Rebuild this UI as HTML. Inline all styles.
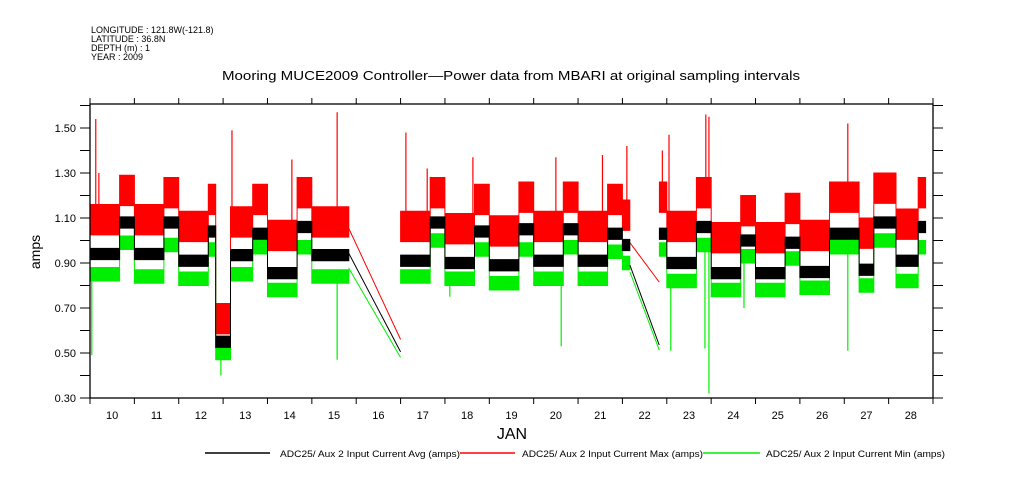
<!DOCTYPE html>
<html><head><meta charset="utf-8"><style>
html,body{margin:0;padding:0;background:#fff;}
svg{display:block;font-family:"Liberation Sans",sans-serif;}
</style></head><body>
<svg id="chart" width="1009" height="504" viewBox="0 0 1009 504" xmlns="http://www.w3.org/2000/svg">
<g font-size="9" fill="#000">
<text x="91" y="33">LONGITUDE : 121.8W(-121.8)</text>
<text x="91" y="42">LATITUDE : 36.8N</text>
<text x="91" y="51">DEPTH (m) : 1</text>
<text x="91" y="60">YEAR : 2009</text>
</g>
<text x="222" y="80" font-size="13" textLength="578" lengthAdjust="spacingAndGlyphs">Mooring MUCE2009 Controller—Power data from MBARI at original sampling intervals</text>
<text x="0" y="0" font-size="14" text-anchor="middle" transform="translate(40,252) rotate(-90)">amps</text>
<text x="512" y="439" font-size="16" text-anchor="middle">JAN</text>
<g id="plot"></g>
<g id="axes"></g>
<g font-size="9">
<line x1="205" y1="453" x2="270" y2="453" stroke="#000" stroke-width="1.5"/>
<text x="280" y="457" textLength="180" lengthAdjust="spacingAndGlyphs">ADC25/ Aux 2 Input Current Avg (amps)</text>
<line x1="460" y1="453" x2="515" y2="453" stroke="#f00" stroke-width="1.5"/>
<text x="522" y="457" textLength="181" lengthAdjust="spacingAndGlyphs">ADC25/ Aux 2 Input Current Max (amps)</text>
<line x1="703" y1="453" x2="760" y2="453" stroke="#0e0" stroke-width="1.5"/>
<text x="766" y="457" textLength="179" lengthAdjust="spacingAndGlyphs">ADC25/ Aux 2 Input Current Min (amps)</text>
</g>
</svg>
<script>
// 6 samples per day (4h slots), days 10..28
const dayStart = 10;
const slotsPerDay = 6;
const avgValues = [
0.94,0.94,0.94,0.94,1.08,1.08,
0.94,0.94,0.94,0.94,1.08,1.08,
0.91,0.91,0.91,0.91,1.04,0.55,
0.55,0.935,0.935,0.935,1.03,1.03,
0.855,0.855,0.855,0.855,1.06,1.06,
0.935,0.935,0.935,0.935,0.935,null,
null,null,null,null,null,null,
0.91,0.91,0.91,0.91,1.08,1.08,
0.90,0.90,0.90,0.90,1.04,1.04,
0.89,0.89,0.89,0.89,1.05,1.05,
0.91,0.91,0.91,0.91,1.05,1.05,
0.91,0.91,0.91,0.91,1.03,1.03,
0.98,null,null,null,null,1.03,
0.90,0.90,0.90,0.90,1.06,1.06,
0.855,0.855,0.855,0.855,1.0,1.0,
0.855,0.855,0.855,0.855,0.99,0.99,
0.86,0.86,0.86,0.86,1.03,1.03,
1.03,1.03,0.87,0.87,1.08,1.08,
1.08,0.91,0.91,0.91,1.06,null];
const maxValues = [
1.08,1.08,1.08,1.08,1.21,1.21,
1.08,1.08,1.08,1.08,1.20,1.20,
1.05,1.05,1.05,1.05,1.17,0.64,
0.64,1.07,1.07,1.07,1.17,1.17,
1.01,1.01,1.01,1.01,1.20,1.20,
1.07,1.07,1.07,1.07,1.07,null,
null,null,null,null,null,null,
1.05,1.05,1.05,1.05,1.20,1.20,
1.04,1.04,1.04,1.04,1.17,1.17,
1.03,1.03,1.03,1.03,1.18,1.18,
1.05,1.05,1.05,1.05,1.18,1.18,
1.05,1.05,1.05,1.05,1.17,1.17,
1.10,null,null,null,null,1.18,
1.05,1.05,1.05,1.05,1.20,1.20,
1.00,1.00,1.00,1.00,1.12,1.12,
1.00,1.00,1.00,1.00,1.13,1.13,
1.01,1.01,1.01,1.01,1.18,1.18,
1.18,1.18,1.02,1.02,1.22,1.22,
1.22,1.06,1.06,1.06,1.20,null];
const minValues = [
0.85,0.85,0.85,0.85,0.99,0.99,
0.84,0.84,0.84,0.84,0.98,0.98,
0.83,0.83,0.83,0.83,0.96,0.50,
0.50,0.85,0.85,0.85,0.97,0.97,
0.78,0.78,0.78,0.78,0.97,0.97,
0.84,0.84,0.84,0.84,0.84,null,
null,null,null,null,null,null,
0.84,0.84,0.84,0.84,1.00,1.00,
0.83,0.83,0.83,0.83,0.96,0.96,
0.81,0.81,0.81,0.81,0.96,0.96,
0.83,0.83,0.83,0.83,0.97,0.97,
0.83,0.83,0.83,0.83,0.95,0.95,
0.90,null,null,null,null,0.96,
0.82,0.82,0.82,0.82,0.98,0.98,
0.78,0.78,0.78,0.78,0.93,0.93,
0.78,0.78,0.78,0.78,0.92,0.92,
0.79,0.79,0.79,0.79,0.97,0.97,
0.97,0.97,0.80,0.80,1.00,1.00,
1.00,0.82,0.82,0.82,0.97,null];
const maxSpikeDays = [10.13,10.2,13.2,14.55,15.57,17.12,17.6,18.63,20.5,21.55,22.1,22.9,23.05,23.88,23.95,27.08];
const maxSpikeValues = [1.54,1.30,1.49,1.36,1.57,1.48,1.32,1.37,1.37,1.38,1.42,1.40,1.47,1.56,1.55,1.52];
const minSpikeDays = [10.04,12.95,15.57,18.11,20.62,23.09,23.86,23.95,24.74,27.08];
const minSpikeValues = [0.49,0.40,0.47,0.75,0.53,0.51,0.52,0.32,0.70,0.51];
const gapStartDays = [15.83,22.17];
const gapEndDays = [17.0,22.83];
const gapMaxStart = [1.055,0.99], gapMaxEnd = [0.56,0.815];
const gapAvgStart = [0.944,0.89], gapAvgEnd = [0.505,0.535];
const gapMinStart = [0.878,0.86], gapMinEnd = [0.48,0.513];
const yTicks = [0.30,0.50,0.70,0.90,1.10,1.30,1.50];
const dayLabels = [10,11,12,13,14,15,16,17,18,19,20,21,22,23,24,25,26,27,28];

const X0=90,X1=933,Y0=398,Y1=104;
const xs = d => X0 + (d-10)*(X1-X0)/19;
const ys = v => Y0 - (v-0.30)*225;
const NS="http://www.w3.org/2000/svg";
const plot=document.getElementById('plot'), axes=document.getElementById('axes');
function mk(tag,attrs,parent){const e=document.createElementNS(NS,tag);for(const k in attrs)e.setAttribute(k,attrs[k]);parent.appendChild(e);return e;}

function band(vals,lo,hi,color,name){
  let i=0;
  while(i<vals.length){
    if(vals[i]===null){i++;continue;}
    let j=i;while(j<vals.length&&vals[j]!==null)j++;
    let top=[],bot=[];
    for(let k=i;k<j;k++){
      const a=dayStart+k/slotsPerDay,b=dayStart+(k+1)/slotsPerDay;
      top.push([xs(a),ys(vals[k]+hi)],[xs(b),ys(vals[k]+hi)]);
      bot.push([xs(a),ys(vals[k]-lo)],[xs(b),ys(vals[k]-lo)]);
    }
    const pts=top.concat(bot.reverse()).map(p=>p[0].toFixed(1)+','+p[1].toFixed(1)).join(' ');
    const el=mk('polygon',{points:pts,fill:color,stroke:color,'stroke-width':1},plot);
    
    
    i=j;
  }
}
function gaps(s,e,color,name){
  for(let g=0;g<gapStartDays.length;g++){
    const el=mk('line',{x1:xs(gapStartDays[g]),y1:ys(s[g]),x2:xs(gapEndDays[g]),y2:ys(e[g]),stroke:color,'stroke-width':1},plot);
    
    
  }
}
function spikes(days,vals,base,color,name){
  for(let i=0;i<days.length;i++){
    const k=Math.floor((days[i]-dayStart)*slotsPerDay);
    const b=base[k]!==null&&base[k]!==undefined?base[k]:vals[i];
    const el=mk('line',{x1:xs(days[i]),y1:ys(b),x2:xs(days[i]),y2:ys(vals[i]),stroke:color,'stroke-width':1.2},plot);
    
    
  }
}
band(maxValues,0.055,0.08,'#ff0000','max-series-band');
spikes(maxSpikeDays,maxSpikeValues,maxValues,'#ff0000','max-spike');
gaps(gapMaxStart,gapMaxEnd,'#ff0000','max-gap-line');
band(minValues,0.03,0.03,'#00ee00','min-series-band');
spikes(minSpikeDays,minSpikeValues,minValues,'#00ee00','min-spike');
gaps(gapMinStart,gapMinEnd,'#00ee00','min-gap-line');
band(avgValues,0.025,0.025,'#000000','avg-series-band');
gaps(gapAvgStart,gapAvgEnd,'#000000','avg-gap-line');

const frame=mk('rect',{x:X0,y:Y1,width:X1-X0,height:Y0-Y1,fill:'none',stroke:'#000','stroke-width':1.3},axes);


for(let v=0.30;v<=1.601;v+=0.1){
  const y=ys(v);
  mk('line',{x1:X0-10,y1:y,x2:X0,y2:y,stroke:'#000'},axes);
  mk('line',{x1:X1,y1:y,x2:X1+10,y2:y,stroke:'#000'},axes);
}
yTicks.forEach(v=>{
  const t=mk('text',{x:X0-14,y:ys(v)+4,'font-size':11,'text-anchor':'end'},axes);
  t.textContent=v.toFixed(2);
  
  
});
for(let d=10;d<=29;d++){
  const x=xs(d);
  mk('line',{x1:x,y1:Y0,x2:x,y2:Y0+6,stroke:'#000'},axes);
  mk('line',{x1:x,y1:Y1-6,x2:x,y2:Y1,stroke:'#000'},axes);
}
dayLabels.forEach(d=>{
  const t=mk('text',{x:xs(d+0.5),y:419,'font-size':11,'text-anchor':'middle'},axes);
  t.textContent=String(d);
  
  
});
</script>
</body></html>
